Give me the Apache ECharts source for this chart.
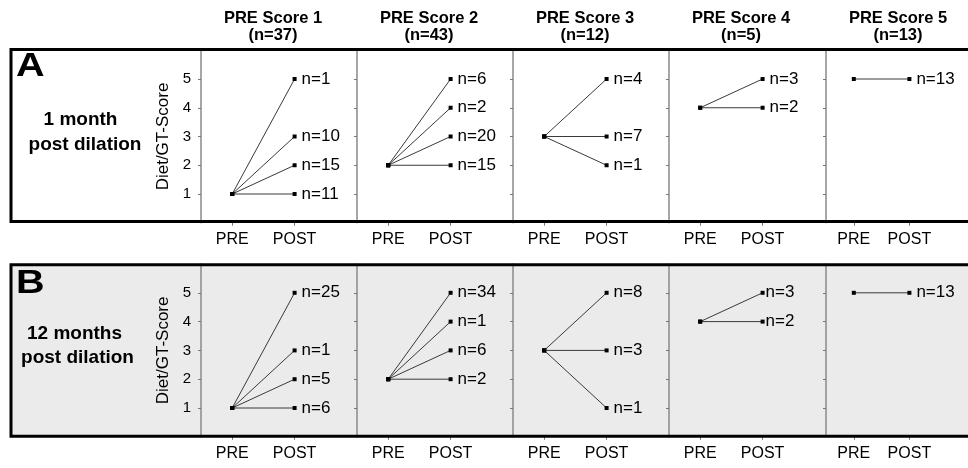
<!DOCTYPE html>
<html>
<head>
<meta charset="utf-8">
<script src="https://cdn.jsdelivr.net/npm/echarts@6/dist/echarts.min.js"></script>
<style>
html,body{margin:0;padding:0;background:#fff;}
#chart{width:968px;height:468px;}
</style>
</head>
<body>
<div id="chart"></div>
<script>
// ---- data ----
const xCategories = ['', 'PRE', '', 'POST', '', ''];
const yTicks = [1, 2, 3, 4, 5];
const preScores = [1, 2, 3, 4, 5];
const groupN = [37, 43, 12, 5, 13];
const panelNames = ['A', 'B'];
const panelTitles = [['1 month', 'post dilation'], ['12 months', 'post dilation']];
const postA = [[5, 3, 2, 1], [5, 4, 3, 2], [5, 3, 2], [5, 4], [5]];
const countA = [[1, 10, 15, 11], [6, 2, 20, 15], [4, 7, 1], [3, 2], [13]];
const postB = [[5, 3, 2, 1], [5, 4, 3, 2], [5, 3, 1], [5, 4], [5]];
const countB = [[25, 1, 5, 6], [34, 1, 6, 2], [8, 3, 1], [3, 2], [13]];

const posts = [postA, postB];
const counts = [countA, countB];

// ---- layout ----
const FONT = "'Liberation Sans', Arial, Helvetica, sans-serif";
const colLeft = [201, 357, 513, 669, 826];
const colW = 156;
const panelTop = [50.25, 264];
const panelH = [172.5, 172.8];
const boxY = [[49.5, 221.5], [264.7, 436.3]];

const chart = echarts.init(document.getElementById('chart'));

const grid = [], xAxis = [], yAxis = [], series = [];
for (let p = 0; p < 2; p++) {
  for (let c = 0; c < 5; c++) {
    const gi = p * 5 + c;
    grid.push({left: colLeft[c], top: panelTop[p], width: colW, height: panelH[p], containLabel: false});
    xAxis.push({
      type: 'category', gridIndex: gi, data: xCategories, boundaryGap: false,
      axisLine: {show: false},
      axisTick: {show: true, length: 3, inside: false, interval: (i, v) => v !== '', lineStyle: {color: '#777'}},
      axisLabel: {show: true, interval: 0, margin: 9, color: '#000', fontSize: 16, fontFamily: FONT},
      splitLine: {show: false}
    });
    yAxis.push({
      type: 'value', gridIndex: gi, min: 0, max: 6, interval: 1,
      axisLine: {show: true, lineStyle: {color: '#8a8a8a', width: 1.5}},
      axisTick: {show: true, length: 3, lineStyle: {color: '#777'},
                 customValues: yTicks},
      axisLabel: {show: c === 0, margin: 10, color: '#000', fontSize: 15, fontFamily: FONT,
                  customValues: yTicks,
                  formatter: v => (v >= 1 && v <= 5) ? String(v) : ''},
      splitLine: {show: false},
      name: c === 0 ? 'Diet/GT-Score' : '',
      nameLocation: 'middle', nameGap: 29, nameRotate: 90,
      nameTextStyle: {color: '#000', fontSize: 17, fontFamily: FONT}
    });
    const pv = posts[p][c], cv = counts[p][c];
    for (let i = 0; i < pv.length; i++) {
      series.push({
        type: 'line', xAxisIndex: gi, yAxisIndex: gi,
        symbol: 'rect', symbolSize: 4, showSymbol: true,
        lineStyle: {color: '#3a3a3a', width: 1},
        itemStyle: {color: '#000'},
        emphasis: {disabled: true},
        data: [
          {value: ['PRE', preScores[c]]},
          {value: ['POST', pv[i]], label: {show: true, position: 'right',
            distance: (p === 1 && c === 3) ? 1 : 5,
            formatter: 'n=' + cv[i], color: '#000', fontSize: 17, fontFamily: FONT}}
        ],
        z: 3
      });
    }
  }
}

const graphic = [];
// panel backgrounds
graphic.push({type: 'rect', z: -10, silent: true,
  shape: {x: 11, y: boxY[0][0], width: 990, height: boxY[0][1] - boxY[0][0]},
  style: {fill: '#ffffff'}});
graphic.push({type: 'rect', z: -10, silent: true,
  shape: {x: 11, y: boxY[1][0], width: 990, height: boxY[1][1] - boxY[1][0]},
  style: {fill: '#ebebeb'}});
// borders on top
for (let p = 0; p < 2; p++) {
  graphic.push({type: 'rect', z: 50, silent: true,
    shape: {x: 11, y: boxY[p][0], width: 990, height: boxY[p][1] - boxY[p][0]},
    style: {fill: 'none', stroke: '#000', lineWidth: 3}});
}
// column headers
for (let c = 0; c < 5; c++) {
  graphic.push({type: 'text', z: 60,
    x: colLeft[c] + 72, y: 18.5,
    style: {text: 'PRE Score ' + preScores[c], font: 'bold 16.5px ' + FONT, fill: '#000',
            textAlign: 'center', textVerticalAlign: 'middle'}});
  graphic.push({type: 'text', z: 60,
    x: colLeft[c] + 72, y: 35,
    style: {text: '(n=' + groupN[c] + ')', font: 'bold 16.5px ' + FONT, fill: '#000',
            textAlign: 'center', textVerticalAlign: 'middle'}});
}
// panel letters and titles
const letterY = [66.5, 283.5];
const titleX = [[80.5, 85], [74.5, 77.5]];
const titleY = [[120, 144.5], [333.5, 357.5]];
for (let p = 0; p < 2; p++) {
  graphic.push({type: 'text', z: 60, x: 16, y: letterY[p], scaleX: 1.2,
    style: {text: panelNames[p], font: 'bold 33px ' + FONT, fill: '#000',
            textAlign: 'left', textVerticalAlign: 'middle'}});
  for (let k = 0; k < 2; k++) {
    graphic.push({type: 'text', z: 60, x: titleX[p][k], y: titleY[p][k],
      style: {text: panelTitles[p][k], font: 'bold 19px ' + FONT, fill: '#000',
              textAlign: 'center', textVerticalAlign: 'middle'}});
  }
}

chart.setOption({
  backgroundColor: '#ffffff',
  animation: false,
  grid, xAxis, yAxis, series, graphic
});
</script>
</body>
</html>
